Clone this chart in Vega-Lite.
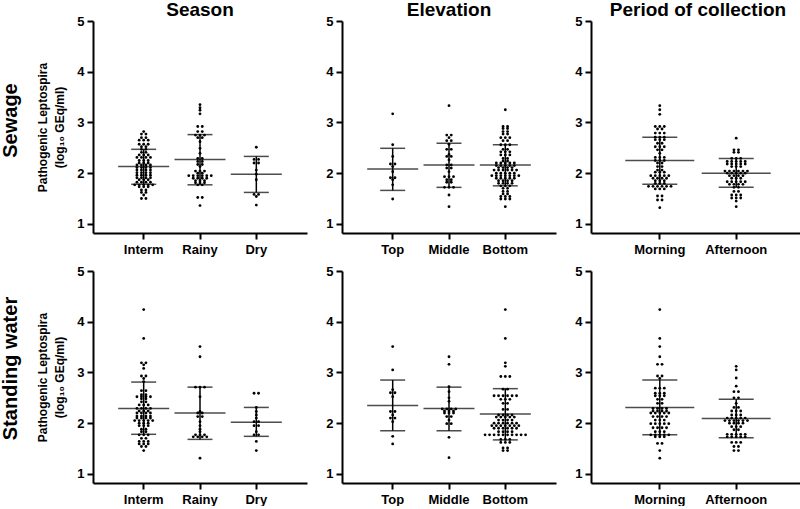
{
"$schema":"https://vega.github.io/schema/vega-lite/v6.json",
"background":"white",
"padding":{"left":0,"top":1,"right":0,"bottom":0},
"config":{
 "font":"Liberation Sans",
 "view":{"stroke":null},
 "axis":{"domainColor":"black","domainWidth":2,"tickColor":"black","tickWidth":2,"tickSize":6,"labelFont":"Liberation Sans","labelFontSize":13,"labelFontWeight":"bold","labelColor":"black","grid":false,"titleFont":"Liberation Sans","titleFontWeight":"bold","titleColor":"black","titleFontSize":12,"titleLineHeight":17},
 "axisY":{"format":"d","labelPadding":3},
 "axisX":{"title":null,"labelAngle":0,"labelPadding":4},
 "title":{"font":"Liberation Sans","fontWeight":"bold","color":"black","fontSize":19}
},
"datasets":{
"s1":[{"g":"Interm","m":2.13,"lo":1.78,"hi":2.47},{"g":"Rainy","m":2.27,"lo":1.77,"hi":2.76},{"g":"Dry","m":1.98,"lo":1.62,"hi":2.33}],
"s2":[{"g":"Top","m":2.08,"lo":1.66,"hi":2.49},{"g":"Middle","m":2.16,"lo":1.72,"hi":2.59},{"g":"Bottom","m":2.16,"lo":1.75,"hi":2.56}],
"s3":[{"g":"Morning","m":2.25,"lo":1.78,"hi":2.71},{"g":"Afternoon","m":2.0,"lo":1.72,"hi":2.29}],
"s4":[{"g":"Interm","m":2.29,"lo":1.78,"hi":2.81},{"g":"Rainy","m":2.2,"lo":1.68,"hi":2.71},{"g":"Dry","m":2.02,"lo":1.74,"hi":2.31}],
"s5":[{"g":"Top","m":2.35,"lo":1.85,"hi":2.85},{"g":"Middle","m":2.29,"lo":1.85,"hi":2.71},{"g":"Bottom","m":2.18,"lo":1.67,"hi":2.68}],
"s6":[{"g":"Morning","m":2.31,"lo":1.77,"hi":2.85},{"g":"Afternoon","m":2.09,"lo":1.71,"hi":2.47}],
"p1":[
{"g":"Interm","v":2.82},{"g":"Interm","v":2.77},{"g":"Interm","v":2.77},{"g":"Interm","v":2.7},{"g":"Interm","v":2.7},{"g":"Interm","v":2.65},{"g":"Interm","v":2.65},{"g":"Interm","v":2.65},{"g":"Interm","v":2.57},{"g":"Interm","v":2.57},{"g":"Interm","v":2.57},{"g":"Interm","v":2.52},{"g":"Interm","v":2.52},{"g":"Interm","v":2.47},{"g":"Interm","v":2.47},{"g":"Interm","v":2.41},{"g":"Interm","v":2.41},{"g":"Interm","v":2.36},{"g":"Interm","v":2.36},{"g":"Interm","v":2.36},{"g":"Interm","v":2.31},{"g":"Interm","v":2.31},{"g":"Interm","v":2.31},{"g":"Interm","v":2.31},{"g":"Interm","v":2.25},{"g":"Interm","v":2.25},{"g":"Interm","v":2.25},{"g":"Interm","v":2.2},{"g":"Interm","v":2.2},{"g":"Interm","v":2.2},{"g":"Interm","v":2.16},{"g":"Interm","v":2.16},{"g":"Interm","v":2.16},{"g":"Interm","v":2.16},{"g":"Interm","v":2.11},{"g":"Interm","v":2.11},{"g":"Interm","v":2.11},{"g":"Interm","v":2.11},{"g":"Interm","v":2.06},{"g":"Interm","v":2.06},{"g":"Interm","v":2.06},{"g":"Interm","v":2.06},{"g":"Interm","v":2.01},{"g":"Interm","v":2.01},{"g":"Interm","v":2.01},{"g":"Interm","v":2.01},{"g":"Interm","v":1.96},{"g":"Interm","v":1.96},{"g":"Interm","v":1.96},{"g":"Interm","v":1.96},{"g":"Interm","v":1.91},{"g":"Interm","v":1.91},{"g":"Interm","v":1.91},{"g":"Interm","v":1.91},{"g":"Interm","v":1.87},{"g":"Interm","v":1.87},{"g":"Interm","v":1.87},{"g":"Interm","v":1.82},{"g":"Interm","v":1.82},{"g":"Interm","v":1.82},{"g":"Interm","v":1.82},{"g":"Interm","v":1.77},{"g":"Interm","v":1.77},{"g":"Interm","v":1.77},{"g":"Interm","v":1.77},{"g":"Interm","v":1.77},{"g":"Interm","v":1.73},{"g":"Interm","v":1.73},{"g":"Interm","v":1.73},{"g":"Interm","v":1.67},{"g":"Interm","v":1.67},{"g":"Interm","v":1.62},{"g":"Interm","v":1.62},{"g":"Interm","v":1.57},{"g":"Interm","v":1.5},{"g":"Interm","v":1.5},
{"g":"Rainy","v":3.35},{"g":"Rainy","v":3.29},{"g":"Rainy","v":3.24},{"g":"Rainy","v":3.17},{"g":"Rainy","v":2.92},{"g":"Rainy","v":2.92},{"g":"Rainy","v":2.82},{"g":"Rainy","v":2.82},{"g":"Rainy","v":2.75},{"g":"Rainy","v":2.75},{"g":"Rainy","v":2.75},{"g":"Rainy","v":2.7},{"g":"Rainy","v":2.7},{"g":"Rainy","v":2.62},{"g":"Rainy","v":2.49},{"g":"Rainy","v":2.39},{"g":"Rainy","v":2.29},{"g":"Rainy","v":2.29},{"g":"Rainy","v":2.23},{"g":"Rainy","v":2.23},{"g":"Rainy","v":2.17},{"g":"Rainy","v":2.17},{"g":"Rainy","v":2.13},{"g":"Rainy","v":2.04},{"g":"Rainy","v":2.04},{"g":"Rainy","v":2.04},{"g":"Rainy","v":2.0},{"g":"Rainy","v":2.0},{"g":"Rainy","v":1.95},{"g":"Rainy","v":1.95},{"g":"Rainy","v":1.95},{"g":"Rainy","v":1.95},{"g":"Rainy","v":1.95},{"g":"Rainy","v":1.95},{"g":"Rainy","v":1.9},{"g":"Rainy","v":1.9},{"g":"Rainy","v":1.9},{"g":"Rainy","v":1.9},{"g":"Rainy","v":1.85},{"g":"Rainy","v":1.85},{"g":"Rainy","v":1.85},{"g":"Rainy","v":1.81},{"g":"Rainy","v":1.81},{"g":"Rainy","v":1.81},{"g":"Rainy","v":1.77},{"g":"Rainy","v":1.77},{"g":"Rainy","v":1.52},{"g":"Rainy","v":1.52},{"g":"Rainy","v":1.36},
{"g":"Dry","v":2.51},{"g":"Dry","v":2.27},{"g":"Dry","v":2.27},{"g":"Dry","v":2.2},{"g":"Dry","v":2.2},{"g":"Dry","v":2.06},{"g":"Dry","v":1.98},{"g":"Dry","v":1.87},{"g":"Dry","v":1.58},{"g":"Dry","v":1.58},{"g":"Dry","v":1.54},{"g":"Dry","v":1.37}
],
"p2":[
{"g":"Top","v":3.17},{"g":"Top","v":2.56},{"g":"Top","v":2.33},{"g":"Top","v":2.18},{"g":"Top","v":2.18},{"g":"Top","v":2.13},{"g":"Top","v":2.03},{"g":"Top","v":1.91},{"g":"Top","v":1.91},{"g":"Top","v":1.87},{"g":"Top","v":1.77},{"g":"Top","v":1.49},
{"g":"Middle","v":3.33},{"g":"Middle","v":2.75},{"g":"Middle","v":2.75},{"g":"Middle","v":2.7},{"g":"Middle","v":2.64},{"g":"Middle","v":2.64},{"g":"Middle","v":2.57},{"g":"Middle","v":2.47},{"g":"Middle","v":2.47},{"g":"Middle","v":2.37},{"g":"Middle","v":2.33},{"g":"Middle","v":2.33},{"g":"Middle","v":2.26},{"g":"Middle","v":2.16},{"g":"Middle","v":2.16},{"g":"Middle","v":2.1},{"g":"Middle","v":2.1},{"g":"Middle","v":2.03},{"g":"Middle","v":1.93},{"g":"Middle","v":1.93},{"g":"Middle","v":1.93},{"g":"Middle","v":1.87},{"g":"Middle","v":1.87},{"g":"Middle","v":1.82},{"g":"Middle","v":1.82},{"g":"Middle","v":1.72},{"g":"Middle","v":1.72},{"g":"Middle","v":1.72},{"g":"Middle","v":1.57},{"g":"Middle","v":1.34},
{"g":"Bottom","v":3.25},{"g":"Bottom","v":2.92},{"g":"Bottom","v":2.92},{"g":"Bottom","v":2.88},{"g":"Bottom","v":2.88},{"g":"Bottom","v":2.82},{"g":"Bottom","v":2.82},{"g":"Bottom","v":2.77},{"g":"Bottom","v":2.77},{"g":"Bottom","v":2.7},{"g":"Bottom","v":2.7},{"g":"Bottom","v":2.7},{"g":"Bottom","v":2.64},{"g":"Bottom","v":2.64},{"g":"Bottom","v":2.56},{"g":"Bottom","v":2.56},{"g":"Bottom","v":2.56},{"g":"Bottom","v":2.47},{"g":"Bottom","v":2.47},{"g":"Bottom","v":2.42},{"g":"Bottom","v":2.42},{"g":"Bottom","v":2.42},{"g":"Bottom","v":2.36},{"g":"Bottom","v":2.36},{"g":"Bottom","v":2.36},{"g":"Bottom","v":2.29},{"g":"Bottom","v":2.29},{"g":"Bottom","v":2.24},{"g":"Bottom","v":2.24},{"g":"Bottom","v":2.2},{"g":"Bottom","v":2.2},{"g":"Bottom","v":2.2},{"g":"Bottom","v":2.2},{"g":"Bottom","v":2.2},{"g":"Bottom","v":2.15},{"g":"Bottom","v":2.15},{"g":"Bottom","v":2.15},{"g":"Bottom","v":2.15},{"g":"Bottom","v":2.15},{"g":"Bottom","v":2.11},{"g":"Bottom","v":2.11},{"g":"Bottom","v":2.11},{"g":"Bottom","v":2.11},{"g":"Bottom","v":2.06},{"g":"Bottom","v":2.06},{"g":"Bottom","v":2.06},{"g":"Bottom","v":2.06},{"g":"Bottom","v":2.06},{"g":"Bottom","v":2.06},{"g":"Bottom","v":2.0},{"g":"Bottom","v":2.0},{"g":"Bottom","v":2.0},{"g":"Bottom","v":2.0},{"g":"Bottom","v":2.0},{"g":"Bottom","v":1.95},{"g":"Bottom","v":1.95},{"g":"Bottom","v":1.95},{"g":"Bottom","v":1.95},{"g":"Bottom","v":1.95},{"g":"Bottom","v":1.95},{"g":"Bottom","v":1.95},{"g":"Bottom","v":1.9},{"g":"Bottom","v":1.9},{"g":"Bottom","v":1.9},{"g":"Bottom","v":1.9},{"g":"Bottom","v":1.9},{"g":"Bottom","v":1.85},{"g":"Bottom","v":1.85},{"g":"Bottom","v":1.85},{"g":"Bottom","v":1.85},{"g":"Bottom","v":1.8},{"g":"Bottom","v":1.8},{"g":"Bottom","v":1.8},{"g":"Bottom","v":1.8},{"g":"Bottom","v":1.75},{"g":"Bottom","v":1.75},{"g":"Bottom","v":1.75},{"g":"Bottom","v":1.7},{"g":"Bottom","v":1.7},{"g":"Bottom","v":1.64},{"g":"Bottom","v":1.64},{"g":"Bottom","v":1.59},{"g":"Bottom","v":1.59},{"g":"Bottom","v":1.54},{"g":"Bottom","v":1.54},{"g":"Bottom","v":1.54},{"g":"Bottom","v":1.49},{"g":"Bottom","v":1.49},{"g":"Bottom","v":1.49},{"g":"Bottom","v":1.34}
],
"p3":[
{"g":"Morning","v":3.33},{"g":"Morning","v":3.25},{"g":"Morning","v":3.16},{"g":"Morning","v":2.92},{"g":"Morning","v":2.92},{"g":"Morning","v":2.92},{"g":"Morning","v":2.87},{"g":"Morning","v":2.87},{"g":"Morning","v":2.79},{"g":"Morning","v":2.79},{"g":"Morning","v":2.79},{"g":"Morning","v":2.71},{"g":"Morning","v":2.71},{"g":"Morning","v":2.71},{"g":"Morning","v":2.66},{"g":"Morning","v":2.66},{"g":"Morning","v":2.66},{"g":"Morning","v":2.59},{"g":"Morning","v":2.59},{"g":"Morning","v":2.52},{"g":"Morning","v":2.52},{"g":"Morning","v":2.52},{"g":"Morning","v":2.46},{"g":"Morning","v":2.46},{"g":"Morning","v":2.39},{"g":"Morning","v":2.31},{"g":"Morning","v":2.31},{"g":"Morning","v":2.31},{"g":"Morning","v":2.25},{"g":"Morning","v":2.25},{"g":"Morning","v":2.25},{"g":"Morning","v":2.2},{"g":"Morning","v":2.2},{"g":"Morning","v":2.13},{"g":"Morning","v":2.13},{"g":"Morning","v":2.06},{"g":"Morning","v":2.06},{"g":"Morning","v":2.02},{"g":"Morning","v":2.02},{"g":"Morning","v":2.02},{"g":"Morning","v":1.95},{"g":"Morning","v":1.95},{"g":"Morning","v":1.95},{"g":"Morning","v":1.95},{"g":"Morning","v":1.95},{"g":"Morning","v":1.9},{"g":"Morning","v":1.9},{"g":"Morning","v":1.9},{"g":"Morning","v":1.9},{"g":"Morning","v":1.85},{"g":"Morning","v":1.85},{"g":"Morning","v":1.85},{"g":"Morning","v":1.8},{"g":"Morning","v":1.8},{"g":"Morning","v":1.8},{"g":"Morning","v":1.74},{"g":"Morning","v":1.74},{"g":"Morning","v":1.74},{"g":"Morning","v":1.74},{"g":"Morning","v":1.74},{"g":"Morning","v":1.74},{"g":"Morning","v":1.69},{"g":"Morning","v":1.69},{"g":"Morning","v":1.69},{"g":"Morning","v":1.55},{"g":"Morning","v":1.55},{"g":"Morning","v":1.47},{"g":"Morning","v":1.47},{"g":"Morning","v":1.32},
{"g":"Afternoon","v":2.69},{"g":"Afternoon","v":2.46},{"g":"Afternoon","v":2.46},{"g":"Afternoon","v":2.41},{"g":"Afternoon","v":2.41},{"g":"Afternoon","v":2.29},{"g":"Afternoon","v":2.29},{"g":"Afternoon","v":2.29},{"g":"Afternoon","v":2.23},{"g":"Afternoon","v":2.23},{"g":"Afternoon","v":2.23},{"g":"Afternoon","v":2.23},{"g":"Afternoon","v":2.23},{"g":"Afternoon","v":2.18},{"g":"Afternoon","v":2.18},{"g":"Afternoon","v":2.18},{"g":"Afternoon","v":2.18},{"g":"Afternoon","v":2.18},{"g":"Afternoon","v":2.13},{"g":"Afternoon","v":2.13},{"g":"Afternoon","v":2.13},{"g":"Afternoon","v":2.04},{"g":"Afternoon","v":2.04},{"g":"Afternoon","v":2.04},{"g":"Afternoon","v":2.04},{"g":"Afternoon","v":2.04},{"g":"Afternoon","v":2.04},{"g":"Afternoon","v":2.0},{"g":"Afternoon","v":2.0},{"g":"Afternoon","v":2.0},{"g":"Afternoon","v":2.0},{"g":"Afternoon","v":2.0},{"g":"Afternoon","v":1.95},{"g":"Afternoon","v":1.95},{"g":"Afternoon","v":1.95},{"g":"Afternoon","v":1.95},{"g":"Afternoon","v":1.9},{"g":"Afternoon","v":1.9},{"g":"Afternoon","v":1.9},{"g":"Afternoon","v":1.83},{"g":"Afternoon","v":1.83},{"g":"Afternoon","v":1.83},{"g":"Afternoon","v":1.83},{"g":"Afternoon","v":1.83},{"g":"Afternoon","v":1.78},{"g":"Afternoon","v":1.78},{"g":"Afternoon","v":1.78},{"g":"Afternoon","v":1.78},{"g":"Afternoon","v":1.72},{"g":"Afternoon","v":1.72},{"g":"Afternoon","v":1.64},{"g":"Afternoon","v":1.64},{"g":"Afternoon","v":1.57},{"g":"Afternoon","v":1.57},{"g":"Afternoon","v":1.57},{"g":"Afternoon","v":1.51},{"g":"Afternoon","v":1.51},{"g":"Afternoon","v":1.51},{"g":"Afternoon","v":1.45},{"g":"Afternoon","v":1.34}
],
"p4":[
{"g":"Interm","v":4.24},{"g":"Interm","v":3.67},{"g":"Interm","v":3.19},{"g":"Interm","v":3.19},{"g":"Interm","v":3.15},{"g":"Interm","v":3.08},{"g":"Interm","v":2.93},{"g":"Interm","v":2.93},{"g":"Interm","v":2.88},{"g":"Interm","v":2.82},{"g":"Interm","v":2.64},{"g":"Interm","v":2.64},{"g":"Interm","v":2.56},{"g":"Interm","v":2.56},{"g":"Interm","v":2.52},{"g":"Interm","v":2.52},{"g":"Interm","v":2.52},{"g":"Interm","v":2.52},{"g":"Interm","v":2.48},{"g":"Interm","v":2.48},{"g":"Interm","v":2.42},{"g":"Interm","v":2.42},{"g":"Interm","v":2.36},{"g":"Interm","v":2.36},{"g":"Interm","v":2.36},{"g":"Interm","v":2.29},{"g":"Interm","v":2.29},{"g":"Interm","v":2.29},{"g":"Interm","v":2.29},{"g":"Interm","v":2.24},{"g":"Interm","v":2.24},{"g":"Interm","v":2.24},{"g":"Interm","v":2.2},{"g":"Interm","v":2.2},{"g":"Interm","v":2.2},{"g":"Interm","v":2.2},{"g":"Interm","v":2.14},{"g":"Interm","v":2.14},{"g":"Interm","v":2.14},{"g":"Interm","v":2.14},{"g":"Interm","v":2.1},{"g":"Interm","v":2.1},{"g":"Interm","v":2.1},{"g":"Interm","v":2.1},{"g":"Interm","v":2.05},{"g":"Interm","v":2.05},{"g":"Interm","v":2.05},{"g":"Interm","v":2.05},{"g":"Interm","v":2.05},{"g":"Interm","v":2.0},{"g":"Interm","v":2.0},{"g":"Interm","v":2.0},{"g":"Interm","v":1.95},{"g":"Interm","v":1.95},{"g":"Interm","v":1.95},{"g":"Interm","v":1.88},{"g":"Interm","v":1.88},{"g":"Interm","v":1.83},{"g":"Interm","v":1.83},{"g":"Interm","v":1.77},{"g":"Interm","v":1.77},{"g":"Interm","v":1.77},{"g":"Interm","v":1.7},{"g":"Interm","v":1.7},{"g":"Interm","v":1.64},{"g":"Interm","v":1.64},{"g":"Interm","v":1.64},{"g":"Interm","v":1.59},{"g":"Interm","v":1.59},{"g":"Interm","v":1.59},{"g":"Interm","v":1.54},{"g":"Interm","v":1.54},{"g":"Interm","v":1.46},
{"g":"Rainy","v":3.51},{"g":"Rainy","v":3.31},{"g":"Rainy","v":2.71},{"g":"Rainy","v":2.71},{"g":"Rainy","v":2.71},{"g":"Rainy","v":2.52},{"g":"Rainy","v":2.23},{"g":"Rainy","v":2.2},{"g":"Rainy","v":2.2},{"g":"Rainy","v":2.13},{"g":"Rainy","v":2.13},{"g":"Rainy","v":2.03},{"g":"Rainy","v":1.95},{"g":"Rainy","v":1.88},{"g":"Rainy","v":1.83},{"g":"Rainy","v":1.77},{"g":"Rainy","v":1.77},{"g":"Rainy","v":1.77},{"g":"Rainy","v":1.73},{"g":"Rainy","v":1.73},{"g":"Rainy","v":1.73},{"g":"Rainy","v":1.73},{"g":"Rainy","v":1.31},
{"g":"Dry","v":2.59},{"g":"Dry","v":2.59},{"g":"Dry","v":2.31},{"g":"Dry","v":2.23},{"g":"Dry","v":2.16},{"g":"Dry","v":2.1},{"g":"Dry","v":2.03},{"g":"Dry","v":2.03},{"g":"Dry","v":1.95},{"g":"Dry","v":1.95},{"g":"Dry","v":1.83},{"g":"Dry","v":1.77},{"g":"Dry","v":1.77},{"g":"Dry","v":1.64},{"g":"Dry","v":1.46}
],
"p5":[
{"g":"Top","v":3.51},{"g":"Top","v":3.05},{"g":"Top","v":2.66},{"g":"Top","v":2.6},{"g":"Top","v":2.6},{"g":"Top","v":2.52},{"g":"Top","v":2.23},{"g":"Top","v":2.23},{"g":"Top","v":2.16},{"g":"Top","v":2.1},{"g":"Top","v":2.1},{"g":"Top","v":2.03},{"g":"Top","v":1.74},{"g":"Top","v":1.59},
{"g":"Middle","v":3.31},{"g":"Middle","v":3.16},{"g":"Middle","v":2.72},{"g":"Middle","v":2.62},{"g":"Middle","v":2.5},{"g":"Middle","v":2.43},{"g":"Middle","v":2.28},{"g":"Middle","v":2.28},{"g":"Middle","v":2.28},{"g":"Middle","v":2.28},{"g":"Middle","v":2.24},{"g":"Middle","v":2.24},{"g":"Middle","v":2.24},{"g":"Middle","v":2.2},{"g":"Middle","v":2.2},{"g":"Middle","v":2.2},{"g":"Middle","v":2.13},{"g":"Middle","v":2.13},{"g":"Middle","v":2.06},{"g":"Middle","v":1.99},{"g":"Middle","v":1.99},{"g":"Middle","v":1.72},{"g":"Middle","v":1.32},
{"g":"Bottom","v":4.24},{"g":"Bottom","v":3.67},{"g":"Bottom","v":3.19},{"g":"Bottom","v":3.12},{"g":"Bottom","v":2.92},{"g":"Bottom","v":2.92},{"g":"Bottom","v":2.92},{"g":"Bottom","v":2.67},{"g":"Bottom","v":2.67},{"g":"Bottom","v":2.54},{"g":"Bottom","v":2.54},{"g":"Bottom","v":2.54},{"g":"Bottom","v":2.54},{"g":"Bottom","v":2.54},{"g":"Bottom","v":2.54},{"g":"Bottom","v":2.47},{"g":"Bottom","v":2.47},{"g":"Bottom","v":2.47},{"g":"Bottom","v":2.39},{"g":"Bottom","v":2.39},{"g":"Bottom","v":2.27},{"g":"Bottom","v":2.27},{"g":"Bottom","v":2.16},{"g":"Bottom","v":2.16},{"g":"Bottom","v":2.16},{"g":"Bottom","v":2.16},{"g":"Bottom","v":2.12},{"g":"Bottom","v":2.12},{"g":"Bottom","v":2.12},{"g":"Bottom","v":2.12},{"g":"Bottom","v":2.12},{"g":"Bottom","v":2.06},{"g":"Bottom","v":2.06},{"g":"Bottom","v":2.06},{"g":"Bottom","v":2.06},{"g":"Bottom","v":2.0},{"g":"Bottom","v":2.0},{"g":"Bottom","v":2.0},{"g":"Bottom","v":2.0},{"g":"Bottom","v":2.0},{"g":"Bottom","v":2.0},{"g":"Bottom","v":1.95},{"g":"Bottom","v":1.95},{"g":"Bottom","v":1.95},{"g":"Bottom","v":1.95},{"g":"Bottom","v":1.95},{"g":"Bottom","v":1.95},{"g":"Bottom","v":1.95},{"g":"Bottom","v":1.9},{"g":"Bottom","v":1.9},{"g":"Bottom","v":1.9},{"g":"Bottom","v":1.9},{"g":"Bottom","v":1.9},{"g":"Bottom","v":1.9},{"g":"Bottom","v":1.83},{"g":"Bottom","v":1.83},{"g":"Bottom","v":1.83},{"g":"Bottom","v":1.83},{"g":"Bottom","v":1.77},{"g":"Bottom","v":1.77},{"g":"Bottom","v":1.77},{"g":"Bottom","v":1.77},{"g":"Bottom","v":1.77},{"g":"Bottom","v":1.77},{"g":"Bottom","v":1.77},{"g":"Bottom","v":1.77},{"g":"Bottom","v":1.77},{"g":"Bottom","v":1.77},{"g":"Bottom","v":1.68},{"g":"Bottom","v":1.68},{"g":"Bottom","v":1.68},{"g":"Bottom","v":1.62},{"g":"Bottom","v":1.62},{"g":"Bottom","v":1.62},{"g":"Bottom","v":1.51},{"g":"Bottom","v":1.51},{"g":"Bottom","v":1.46},{"g":"Bottom","v":1.46}
],
"p6":[
{"g":"Morning","v":4.24},{"g":"Morning","v":3.67},{"g":"Morning","v":3.51},{"g":"Morning","v":3.31},{"g":"Morning","v":3.16},{"g":"Morning","v":3.16},{"g":"Morning","v":2.93},{"g":"Morning","v":2.93},{"g":"Morning","v":2.88},{"g":"Morning","v":2.69},{"g":"Morning","v":2.69},{"g":"Morning","v":2.69},{"g":"Morning","v":2.59},{"g":"Morning","v":2.59},{"g":"Morning","v":2.59},{"g":"Morning","v":2.54},{"g":"Morning","v":2.54},{"g":"Morning","v":2.54},{"g":"Morning","v":2.47},{"g":"Morning","v":2.47},{"g":"Morning","v":2.39},{"g":"Morning","v":2.39},{"g":"Morning","v":2.29},{"g":"Morning","v":2.29},{"g":"Morning","v":2.29},{"g":"Morning","v":2.29},{"g":"Morning","v":2.24},{"g":"Morning","v":2.24},{"g":"Morning","v":2.24},{"g":"Morning","v":2.24},{"g":"Morning","v":2.2},{"g":"Morning","v":2.2},{"g":"Morning","v":2.2},{"g":"Morning","v":2.2},{"g":"Morning","v":2.2},{"g":"Morning","v":2.13},{"g":"Morning","v":2.13},{"g":"Morning","v":2.13},{"g":"Morning","v":2.13},{"g":"Morning","v":2.06},{"g":"Morning","v":2.06},{"g":"Morning","v":2.06},{"g":"Morning","v":1.99},{"g":"Morning","v":1.99},{"g":"Morning","v":1.99},{"g":"Morning","v":1.99},{"g":"Morning","v":1.99},{"g":"Morning","v":1.91},{"g":"Morning","v":1.91},{"g":"Morning","v":1.91},{"g":"Morning","v":1.91},{"g":"Morning","v":1.83},{"g":"Morning","v":1.83},{"g":"Morning","v":1.83},{"g":"Morning","v":1.77},{"g":"Morning","v":1.77},{"g":"Morning","v":1.77},{"g":"Morning","v":1.77},{"g":"Morning","v":1.77},{"g":"Morning","v":1.73},{"g":"Morning","v":1.73},{"g":"Morning","v":1.73},{"g":"Morning","v":1.6},{"g":"Morning","v":1.6},{"g":"Morning","v":1.46},{"g":"Morning","v":1.31},
{"g":"Afternoon","v":3.12},{"g":"Afternoon","v":3.05},{"g":"Afternoon","v":2.89},{"g":"Afternoon","v":2.73},{"g":"Afternoon","v":2.62},{"g":"Afternoon","v":2.62},{"g":"Afternoon","v":2.5},{"g":"Afternoon","v":2.5},{"g":"Afternoon","v":2.39},{"g":"Afternoon","v":2.31},{"g":"Afternoon","v":2.31},{"g":"Afternoon","v":2.24},{"g":"Afternoon","v":2.24},{"g":"Afternoon","v":2.24},{"g":"Afternoon","v":2.16},{"g":"Afternoon","v":2.16},{"g":"Afternoon","v":2.16},{"g":"Afternoon","v":2.1},{"g":"Afternoon","v":2.1},{"g":"Afternoon","v":2.1},{"g":"Afternoon","v":2.1},{"g":"Afternoon","v":2.1},{"g":"Afternoon","v":2.05},{"g":"Afternoon","v":2.05},{"g":"Afternoon","v":2.05},{"g":"Afternoon","v":2.05},{"g":"Afternoon","v":2.05},{"g":"Afternoon","v":2.05},{"g":"Afternoon","v":2.0},{"g":"Afternoon","v":2.0},{"g":"Afternoon","v":2.0},{"g":"Afternoon","v":2.0},{"g":"Afternoon","v":1.93},{"g":"Afternoon","v":1.93},{"g":"Afternoon","v":1.93},{"g":"Afternoon","v":1.87},{"g":"Afternoon","v":1.87},{"g":"Afternoon","v":1.78},{"g":"Afternoon","v":1.78},{"g":"Afternoon","v":1.78},{"g":"Afternoon","v":1.78},{"g":"Afternoon","v":1.78},{"g":"Afternoon","v":1.73},{"g":"Afternoon","v":1.73},{"g":"Afternoon","v":1.73},{"g":"Afternoon","v":1.73},{"g":"Afternoon","v":1.73},{"g":"Afternoon","v":1.62},{"g":"Afternoon","v":1.62},{"g":"Afternoon","v":1.62},{"g":"Afternoon","v":1.54},{"g":"Afternoon","v":1.54},{"g":"Afternoon","v":1.46},{"g":"Afternoon","v":1.46}
]
},
"spacing":9,
"resolve":{"scale":{"xOffset":"independent"}},
"vconcat":[
{"title":{"text":"Sewage","orient":"left","fontSize":20,"offset":16,"anchor":"middle","dx":8},
 "spacing":18,
 "resolve":{"scale":{"xOffset":"independent"}},
 "hconcat":[
  {"width":214,"height":212,"title":{"text":"Season","baseline":"alphabetic","offset":-20},
   "layer":[
    {"data":{"name":"p1"},"transform":[{"window":[{"op":"row_number","as":"r"}],"groupby":["g","v"]},{"joinaggregate":[{"op":"count","as":"n"}],"groupby":["g","v"]},{"calculate":"(datum.r-(datum.n+1)/2)*4.5","as":"dx"}],
     "mark":{"type":"circle","size":8,"color":"black","opacity":1},
     "encoding":{"x":{"field":"g","type":"nominal","sort":["Interm","Rainy","Dry"],"scale":{"type":"band","paddingInner":0,"paddingOuter":0.4}},
      "xOffset":{"field":"dx","type":"quantitative","scale":{"domain":[-40,40],"range":[-11.84,68.16],"nice":false,"zero":false}},
      "y":{"field":"v","type":"quantitative","scale":{"domain":[0.82,5],"nice":false,"zero":false},"axis":{"values":[1,2,3,4,5],"title":["Pathogenic Leptospira","(log₁₀ GEq/ml)"],"titlePadding":10}}}},
    {"data":{"name":"s1"},"mark":{"type":"rule","color":"black","strokeWidth":1.5},"encoding":{"x":{"field":"g","type":"nominal","sort":["Interm","Rainy","Dry"],"scale":{"type":"band","paddingInner":0,"paddingOuter":0.4}},"y":{"field":"lo","type":"quantitative"},"y2":{"field":"hi"}}},
    {"data":{"name":"s1"},"mark":{"type":"tick","color":"black","thickness":1.5,"size":51},"encoding":{"x":{"field":"g","type":"nominal","sort":["Interm","Rainy","Dry"],"scale":{"type":"band","paddingInner":0,"paddingOuter":0.4}},"y":{"field":"m","type":"quantitative"}}},
    {"data":{"name":"s1"},"mark":{"type":"tick","color":"black","thickness":1.5,"size":25},"encoding":{"x":{"field":"g","type":"nominal","sort":["Interm","Rainy","Dry"],"scale":{"type":"band","paddingInner":0,"paddingOuter":0.4}},"y":{"field":"lo","type":"quantitative"}}},
    {"data":{"name":"s1"},"mark":{"type":"tick","color":"black","thickness":1.5,"size":25},"encoding":{"x":{"field":"g","type":"nominal","sort":["Interm","Rainy","Dry"],"scale":{"type":"band","paddingInner":0,"paddingOuter":0.4}},"y":{"field":"hi","type":"quantitative"}}}
   ]},
  {"width":214,"height":212,"title":{"text":"Elevation","baseline":"alphabetic","offset":-20},
   "layer":[
    {"data":{"name":"p2"},"transform":[{"window":[{"op":"row_number","as":"r"}],"groupby":["g","v"]},{"joinaggregate":[{"op":"count","as":"n"}],"groupby":["g","v"]},{"calculate":"(datum.r-(datum.n+1)/2)*4.5","as":"dx"}],
     "mark":{"type":"circle","size":8,"color":"black","opacity":1},
     "encoding":{"x":{"field":"g","type":"nominal","sort":["Top","Middle","Bottom"],"scale":{"type":"band","paddingInner":0,"paddingOuter":0.4}},
      "xOffset":{"field":"dx","type":"quantitative","scale":{"domain":[-40,40],"range":[-11.84,68.16],"nice":false,"zero":false}},
      "y":{"field":"v","type":"quantitative","scale":{"domain":[0.82,5],"nice":false,"zero":false},"axis":{"values":[1,2,3,4,5],"title":null}}}},
    {"data":{"name":"s2"},"mark":{"type":"rule","color":"black","strokeWidth":1.5},"encoding":{"x":{"field":"g","type":"nominal","sort":["Top","Middle","Bottom"],"scale":{"type":"band","paddingInner":0,"paddingOuter":0.4}},"y":{"field":"lo","type":"quantitative"},"y2":{"field":"hi"}}},
    {"data":{"name":"s2"},"mark":{"type":"tick","color":"black","thickness":1.5,"size":51},"encoding":{"x":{"field":"g","type":"nominal","sort":["Top","Middle","Bottom"],"scale":{"type":"band","paddingInner":0,"paddingOuter":0.4}},"y":{"field":"m","type":"quantitative"}}},
    {"data":{"name":"s2"},"mark":{"type":"tick","color":"black","thickness":1.5,"size":25},"encoding":{"x":{"field":"g","type":"nominal","sort":["Top","Middle","Bottom"],"scale":{"type":"band","paddingInner":0,"paddingOuter":0.4}},"y":{"field":"lo","type":"quantitative"}}},
    {"data":{"name":"s2"},"mark":{"type":"tick","color":"black","thickness":1.5,"size":25},"encoding":{"x":{"field":"g","type":"nominal","sort":["Top","Middle","Bottom"],"scale":{"type":"band","paddingInner":0,"paddingOuter":0.4}},"y":{"field":"hi","type":"quantitative"}}}
   ]},
  {"width":214,"height":212,"title":{"text":"Period of collection","baseline":"alphabetic","offset":-20},
   "layer":[
    {"data":{"name":"p3"},"transform":[{"window":[{"op":"row_number","as":"r"}],"groupby":["g","v"]},{"joinaggregate":[{"op":"count","as":"n"}],"groupby":["g","v"]},{"calculate":"(datum.r-(datum.n+1)/2)*4.5","as":"dx"}],
     "mark":{"type":"circle","size":8,"color":"black","opacity":1},
     "encoding":{"x":{"field":"g","type":"nominal","sort":["Morning","Afternoon"],"scale":{"type":"band","paddingInner":0,"paddingOuter":0.4}},
      "xOffset":{"field":"dx","type":"quantitative","scale":{"domain":[-40,40],"range":[-1.79,78.21],"nice":false,"zero":false}},
      "y":{"field":"v","type":"quantitative","scale":{"domain":[0.82,5],"nice":false,"zero":false},"axis":{"values":[1,2,3,4,5],"title":null}}}},
    {"data":{"name":"s3"},"mark":{"type":"rule","color":"black","strokeWidth":1.5},"encoding":{"x":{"field":"g","type":"nominal","sort":["Morning","Afternoon"],"scale":{"type":"band","paddingInner":0,"paddingOuter":0.4}},"y":{"field":"lo","type":"quantitative"},"y2":{"field":"hi"}}},
    {"data":{"name":"s3"},"mark":{"type":"tick","color":"black","thickness":1.5,"size":69},"encoding":{"x":{"field":"g","type":"nominal","sort":["Morning","Afternoon"],"scale":{"type":"band","paddingInner":0,"paddingOuter":0.4}},"y":{"field":"m","type":"quantitative"}}},
    {"data":{"name":"s3"},"mark":{"type":"tick","color":"black","thickness":1.5,"size":35},"encoding":{"x":{"field":"g","type":"nominal","sort":["Morning","Afternoon"],"scale":{"type":"band","paddingInner":0,"paddingOuter":0.4}},"y":{"field":"lo","type":"quantitative"}}},
    {"data":{"name":"s3"},"mark":{"type":"tick","color":"black","thickness":1.5,"size":35},"encoding":{"x":{"field":"g","type":"nominal","sort":["Morning","Afternoon"],"scale":{"type":"band","paddingInner":0,"paddingOuter":0.4}},"y":{"field":"hi","type":"quantitative"}}}
   ]}
 ]},
{"title":{"text":"Standing water","orient":"left","fontSize":20,"offset":16,"anchor":"middle","dx":17},
 "spacing":18,
 "resolve":{"scale":{"xOffset":"independent"}},
 "hconcat":[
  {"width":214,"height":212,
   "layer":[
    {"data":{"name":"p4"},"transform":[{"window":[{"op":"row_number","as":"r"}],"groupby":["g","v"]},{"joinaggregate":[{"op":"count","as":"n"}],"groupby":["g","v"]},{"calculate":"(datum.r-(datum.n+1)/2)*4.5","as":"dx"}],
     "mark":{"type":"circle","size":8,"color":"black","opacity":1},
     "encoding":{"x":{"field":"g","type":"nominal","sort":["Interm","Rainy","Dry"],"scale":{"type":"band","paddingInner":0,"paddingOuter":0.4}},
      "xOffset":{"field":"dx","type":"quantitative","scale":{"domain":[-40,40],"range":[-11.84,68.16],"nice":false,"zero":false}},
      "y":{"field":"v","type":"quantitative","scale":{"domain":[0.82,5],"nice":false,"zero":false},"axis":{"values":[1,2,3,4,5],"title":["Pathogenic Leptospira","(log₁₀ GEq/ml)"],"titlePadding":10}}}},
    {"data":{"name":"s4"},"mark":{"type":"rule","color":"black","strokeWidth":1.5},"encoding":{"x":{"field":"g","type":"nominal","sort":["Interm","Rainy","Dry"],"scale":{"type":"band","paddingInner":0,"paddingOuter":0.4}},"y":{"field":"lo","type":"quantitative"},"y2":{"field":"hi"}}},
    {"data":{"name":"s4"},"mark":{"type":"tick","color":"black","thickness":1.5,"size":51},"encoding":{"x":{"field":"g","type":"nominal","sort":["Interm","Rainy","Dry"],"scale":{"type":"band","paddingInner":0,"paddingOuter":0.4}},"y":{"field":"m","type":"quantitative"}}},
    {"data":{"name":"s4"},"mark":{"type":"tick","color":"black","thickness":1.5,"size":25},"encoding":{"x":{"field":"g","type":"nominal","sort":["Interm","Rainy","Dry"],"scale":{"type":"band","paddingInner":0,"paddingOuter":0.4}},"y":{"field":"lo","type":"quantitative"}}},
    {"data":{"name":"s4"},"mark":{"type":"tick","color":"black","thickness":1.5,"size":25},"encoding":{"x":{"field":"g","type":"nominal","sort":["Interm","Rainy","Dry"],"scale":{"type":"band","paddingInner":0,"paddingOuter":0.4}},"y":{"field":"hi","type":"quantitative"}}}
   ]},
  {"width":214,"height":212,
   "layer":[
    {"data":{"name":"p5"},"transform":[{"window":[{"op":"row_number","as":"r"}],"groupby":["g","v"]},{"joinaggregate":[{"op":"count","as":"n"}],"groupby":["g","v"]},{"calculate":"(datum.r-(datum.n+1)/2)*4.5","as":"dx"}],
     "mark":{"type":"circle","size":8,"color":"black","opacity":1},
     "encoding":{"x":{"field":"g","type":"nominal","sort":["Top","Middle","Bottom"],"scale":{"type":"band","paddingInner":0,"paddingOuter":0.4}},
      "xOffset":{"field":"dx","type":"quantitative","scale":{"domain":[-40,40],"range":[-11.84,68.16],"nice":false,"zero":false}},
      "y":{"field":"v","type":"quantitative","scale":{"domain":[0.82,5],"nice":false,"zero":false},"axis":{"values":[1,2,3,4,5],"title":null}}}},
    {"data":{"name":"s5"},"mark":{"type":"rule","color":"black","strokeWidth":1.5},"encoding":{"x":{"field":"g","type":"nominal","sort":["Top","Middle","Bottom"],"scale":{"type":"band","paddingInner":0,"paddingOuter":0.4}},"y":{"field":"lo","type":"quantitative"},"y2":{"field":"hi"}}},
    {"data":{"name":"s5"},"mark":{"type":"tick","color":"black","thickness":1.5,"size":51},"encoding":{"x":{"field":"g","type":"nominal","sort":["Top","Middle","Bottom"],"scale":{"type":"band","paddingInner":0,"paddingOuter":0.4}},"y":{"field":"m","type":"quantitative"}}},
    {"data":{"name":"s5"},"mark":{"type":"tick","color":"black","thickness":1.5,"size":25},"encoding":{"x":{"field":"g","type":"nominal","sort":["Top","Middle","Bottom"],"scale":{"type":"band","paddingInner":0,"paddingOuter":0.4}},"y":{"field":"lo","type":"quantitative"}}},
    {"data":{"name":"s5"},"mark":{"type":"tick","color":"black","thickness":1.5,"size":25},"encoding":{"x":{"field":"g","type":"nominal","sort":["Top","Middle","Bottom"],"scale":{"type":"band","paddingInner":0,"paddingOuter":0.4}},"y":{"field":"hi","type":"quantitative"}}}
   ]},
  {"width":214,"height":212,
   "layer":[
    {"data":{"name":"p6"},"transform":[{"window":[{"op":"row_number","as":"r"}],"groupby":["g","v"]},{"joinaggregate":[{"op":"count","as":"n"}],"groupby":["g","v"]},{"calculate":"(datum.r-(datum.n+1)/2)*4.5","as":"dx"}],
     "mark":{"type":"circle","size":8,"color":"black","opacity":1},
     "encoding":{"x":{"field":"g","type":"nominal","sort":["Morning","Afternoon"],"scale":{"type":"band","paddingInner":0,"paddingOuter":0.4}},
      "xOffset":{"field":"dx","type":"quantitative","scale":{"domain":[-40,40],"range":[-1.79,78.21],"nice":false,"zero":false}},
      "y":{"field":"v","type":"quantitative","scale":{"domain":[0.82,5],"nice":false,"zero":false},"axis":{"values":[1,2,3,4,5],"title":null}}}},
    {"data":{"name":"s6"},"mark":{"type":"rule","color":"black","strokeWidth":1.5},"encoding":{"x":{"field":"g","type":"nominal","sort":["Morning","Afternoon"],"scale":{"type":"band","paddingInner":0,"paddingOuter":0.4}},"y":{"field":"lo","type":"quantitative"},"y2":{"field":"hi"}}},
    {"data":{"name":"s6"},"mark":{"type":"tick","color":"black","thickness":1.5,"size":69},"encoding":{"x":{"field":"g","type":"nominal","sort":["Morning","Afternoon"],"scale":{"type":"band","paddingInner":0,"paddingOuter":0.4}},"y":{"field":"m","type":"quantitative"}}},
    {"data":{"name":"s6"},"mark":{"type":"tick","color":"black","thickness":1.5,"size":35},"encoding":{"x":{"field":"g","type":"nominal","sort":["Morning","Afternoon"],"scale":{"type":"band","paddingInner":0,"paddingOuter":0.4}},"y":{"field":"lo","type":"quantitative"}}},
    {"data":{"name":"s6"},"mark":{"type":"tick","color":"black","thickness":1.5,"size":35},"encoding":{"x":{"field":"g","type":"nominal","sort":["Morning","Afternoon"],"scale":{"type":"band","paddingInner":0,"paddingOuter":0.4}},"y":{"field":"hi","type":"quantitative"}}}
   ]}
 ]}
]
}
